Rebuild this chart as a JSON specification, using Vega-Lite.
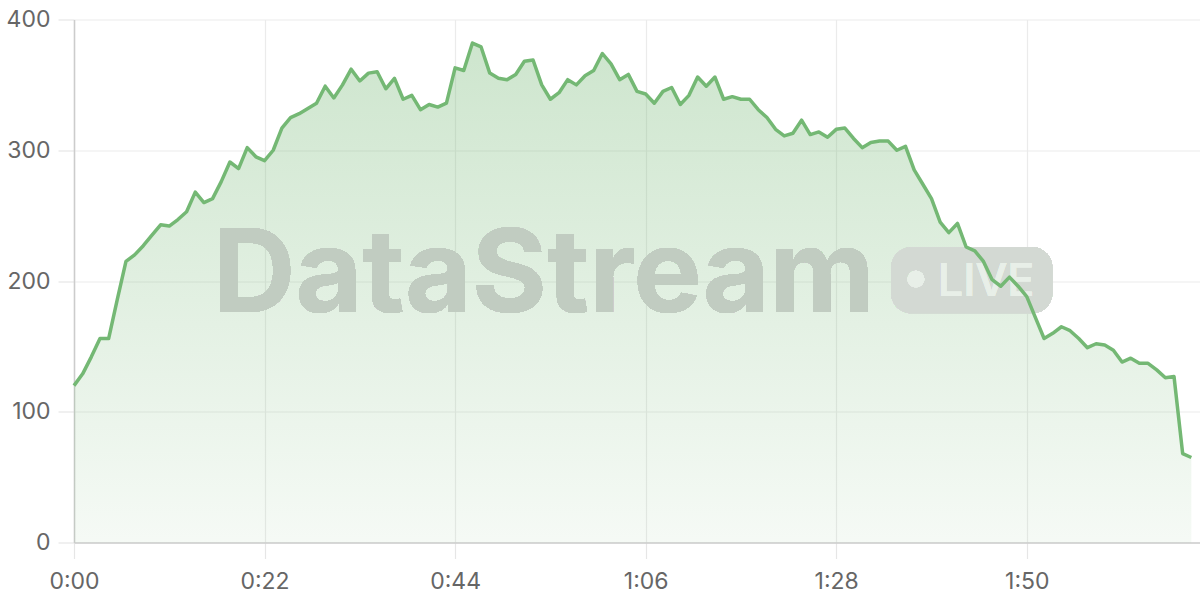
{
  "$schema": "https://vega.github.io/schema/vega-lite/v6.json",
  "width": 1126,
  "height": 523,
  "autosize": {"type": "none"},
  "padding": {"left": 74, "top": 19.5, "right": 0, "bottom": 57.5},
  "background": "#ffffff",
  "config": {
    "view": {"stroke": null},
    "font": "Inter",
    "axis": {
      "labelFont": "Inter",
      "labelFontSize": 23,
      "labelColor": "#666666",
      "labelFlush": false,
      "labelOverlap": false,
      "gridColor": "#ebebeb",
      "gridWidth": 1.2,
      "tickColor": "#e6e6e6",
      "tickSize": 16,
      "tickWidth": 1.2,
      "domainColor": "#cccccc",
      "domainWidth": 1.5,
      "title": null
    }
  },
  "data": {
    "values": [
      {"t":0,"v":120},{"t":1,"v":129},{"t":2,"v":142},{"t":3,"v":156},{"t":4,"v":156},
      {"t":5,"v":186},{"t":6,"v":215},{"t":7,"v":220},{"t":8,"v":227},{"t":9,"v":235},
      {"t":10,"v":243},{"t":11,"v":242},{"t":12,"v":247},{"t":13,"v":253},{"t":14,"v":268},
      {"t":15,"v":260},{"t":16,"v":263},{"t":17,"v":276},{"t":18,"v":291},{"t":19,"v":286},
      {"t":20,"v":302},{"t":21,"v":295},{"t":22,"v":292},{"t":23,"v":300},{"t":24,"v":317},
      {"t":25,"v":325},{"t":26,"v":328},{"t":27,"v":332},{"t":28,"v":336},{"t":29,"v":349},
      {"t":30,"v":340},{"t":31,"v":350},{"t":32,"v":362},{"t":33,"v":353},{"t":34,"v":359},
      {"t":35,"v":360},{"t":36,"v":347},{"t":37,"v":355},{"t":38,"v":339},{"t":39,"v":342},
      {"t":40,"v":331},{"t":41,"v":335},{"t":42,"v":333},{"t":43,"v":336},{"t":44,"v":363},
      {"t":45,"v":361},{"t":46,"v":382},{"t":47,"v":379},{"t":48,"v":359},{"t":49,"v":355},
      {"t":50,"v":354},{"t":51,"v":358},{"t":52,"v":368},{"t":53,"v":369},{"t":54,"v":350},
      {"t":55,"v":339},{"t":56,"v":344},{"t":57,"v":354},{"t":58,"v":350},{"t":59,"v":357},
      {"t":60,"v":361},{"t":61,"v":374},{"t":62,"v":366},{"t":63,"v":354},{"t":64,"v":358},
      {"t":65,"v":345},{"t":66,"v":343},{"t":67,"v":336},{"t":68,"v":345},{"t":69,"v":348},
      {"t":70,"v":335},{"t":71,"v":342},{"t":72,"v":356},{"t":73,"v":349},{"t":74,"v":356},
      {"t":75,"v":339},{"t":76,"v":341},{"t":77,"v":339},{"t":78,"v":339},{"t":79,"v":331},
      {"t":80,"v":325},{"t":81,"v":316},{"t":82,"v":311},{"t":83,"v":313},{"t":84,"v":323},
      {"t":85,"v":312},{"t":86,"v":314},{"t":87,"v":310},{"t":88,"v":316},{"t":89,"v":317},
      {"t":90,"v":309},{"t":91,"v":302},{"t":92,"v":306},{"t":93,"v":307},{"t":94,"v":307},
      {"t":95,"v":300},{"t":96,"v":303},{"t":97,"v":285},{"t":98,"v":274},{"t":99,"v":263},
      {"t":100,"v":245},{"t":101,"v":237},{"t":102,"v":244},{"t":103,"v":226},{"t":104,"v":223},
      {"t":105,"v":215},{"t":106,"v":201},{"t":107,"v":196},{"t":108,"v":203},{"t":109,"v":196},
      {"t":110,"v":188},{"t":111,"v":172},{"t":112,"v":156},{"t":113,"v":160},{"t":114,"v":165},
      {"t":115,"v":162},{"t":116,"v":156},{"t":117,"v":149},{"t":118,"v":152},{"t":119,"v":151},
      {"t":120,"v":147},{"t":121,"v":138},{"t":122,"v":141},{"t":123,"v":137},{"t":124,"v":137},
      {"t":125,"v":132},{"t":126,"v":126},{"t":127,"v":127},{"t":128,"v":68},{"t":129,"v":65}
    ]
  },
  "encoding": {
    "x": {
      "field": "t",
      "type": "quantitative",
      "scale": {"domain": [0, 130], "nice": false, "zero": false},
      "axis": {
        "values": [0, 22, 44, 66, 88, 110],
        "labelExpr": "floor(datum.value / 60) + ':' + (datum.value % 60 < 10 ? '0' : '') + (datum.value % 60)",
        "labelPadding": 12,
        "grid": true
      }
    },
    "y": {
      "field": "v",
      "type": "quantitative",
      "scale": {"domain": [0, 400], "nice": false},
      "axis": {"values": [0, 100, 200, 300, 400], "labelPadding": 8, "grid": true}
    }
  },
  "layer": [
    {
      "mark": {
        "type": "area",
        "color": {
          "gradient": "linear",
          "x1": 0, "y1": 0, "x2": 0, "y2": 1,
          "stops": [
            {"offset": 0, "color": "rgba(118,184,118,0.36)"},
            {"offset": 1, "color": "rgba(118,184,118,0.07)"}
          ]
        }
      }
    },
    {
      "mark": {
        "type": "text",
        "text": "DataStream",
        "font": "Inter",
        "fontWeight": "bold",
        "fontSize": 115,
        "align": "center",
        "baseline": "alphabetic",
        "color": "#c1ccc1"
      },
      "encoding": {
        "x": {"datum": 54.2, "type": "quantitative"},
        "y": {"datum": 176.4, "type": "quantitative"}
      }
    },
    {
      "mark": {"type": "rect", "cornerRadius": 20, "color": "#d3d9d3"},
      "encoding": {
        "x": {"datum": 94.35, "type": "quantitative"},
        "x2": {"datum": 112.95},
        "y": {"datum": 225.8, "type": "quantitative"},
        "y2": {"datum": 175.4}
      }
    },
    {
      "mark": {"type": "point", "filled": true, "shape": "circle", "size": 283, "strokeWidth": 0, "color": "#e8efe8", "opacity": 1},
      "encoding": {
        "x": {"datum": 97.2, "type": "quantitative"},
        "y": {"datum": 201.4, "type": "quantitative"}
      }
    },
    {
      "mark": {
        "type": "text",
        "text": "LIVE",
        "font": "Inter",
        "fontWeight": 500,
        "fontSize": 45,
        "align": "center",
        "baseline": "alphabetic",
        "color": "#e8efe8"
      },
      "encoding": {
        "x": {"datum": 105.3, "type": "quantitative"},
        "y": {"datum": 188.6, "type": "quantitative"}
      }
    },
    {
      "mark": {"type": "line", "color": "#74b874", "strokeWidth": 3.5, "strokeJoin": "round"}
    }
  ]
}
